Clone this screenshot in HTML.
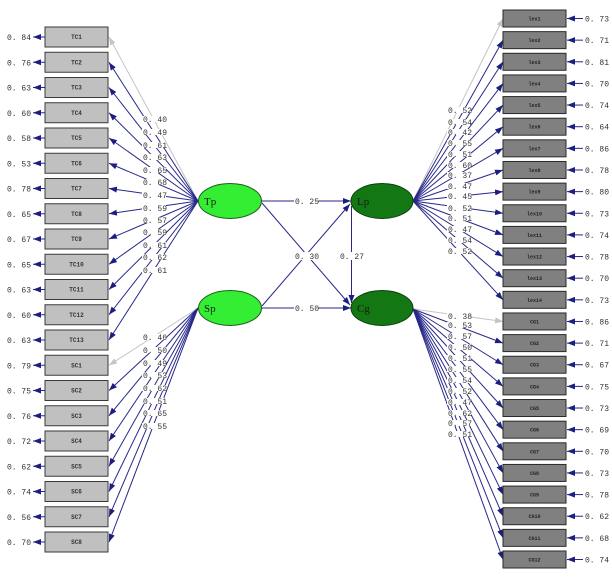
<!DOCTYPE html>
<html><head><meta charset="utf-8"><style>
html,body{margin:0;padding:0;background:#fff;}
svg{display:block;}
.v{font-family:"Liberation Mono",monospace;font-size:8px;fill:#333;}
.b{font-family:"Liberation Mono",monospace;font-size:6px;fill:#333;font-weight:bold;}
.r{font-family:"Liberation Mono",monospace;font-size:5px;fill:#222;font-weight:bold;}
.n{fill:none;stroke:#28288a;stroke-width:1;}
.g{fill:none;stroke:#c4c4c4;stroke-width:1;}
.lb{fill:#fff;}
.lt{font-family:"Liberation Serif",serif;font-size:11px;fill:#1a1a1a;}
</style></head><body>
<svg width="612" height="578" viewBox="0 0 612 578" xmlns="http://www.w3.org/2000/svg">
<defs>
<marker id="a" markerUnits="userSpaceOnUse" markerWidth="8" markerHeight="6" refX="8" refY="3" orient="auto"><path d="M0,0 L8,3 L0,6 z" fill="#1e1e80"/></marker>
<marker id="ag" markerUnits="userSpaceOnUse" markerWidth="8" markerHeight="6" refX="8" refY="3" orient="auto"><path d="M0,0 L8,3 L0,6 z" fill="#c4c4c4"/></marker>
</defs>

<g>
<line class="g" x1="198" y1="201" x2="109" y2="37" marker-end="url(#ag)"/>
<line class="n" x1="198" y1="201" x2="109" y2="62.25" marker-end="url(#a)"/>
<line class="n" x1="198" y1="201" x2="109" y2="87.5" marker-end="url(#a)"/>
<line class="n" x1="198" y1="201" x2="109" y2="112.75" marker-end="url(#a)"/>
<line class="n" x1="198" y1="201" x2="109" y2="138" marker-end="url(#a)"/>
<line class="n" x1="198" y1="201" x2="109" y2="163.25" marker-end="url(#a)"/>
<line class="n" x1="198" y1="201" x2="109" y2="188.5" marker-end="url(#a)"/>
<line class="n" x1="198" y1="201" x2="109" y2="213.75" marker-end="url(#a)"/>
<line class="n" x1="198" y1="201" x2="109" y2="239" marker-end="url(#a)"/>
<line class="n" x1="198" y1="201" x2="109" y2="264.25" marker-end="url(#a)"/>
<line class="n" x1="198" y1="201" x2="109" y2="289.5" marker-end="url(#a)"/>
<line class="n" x1="198" y1="201" x2="109" y2="314.75" marker-end="url(#a)"/>
<line class="n" x1="198" y1="201" x2="109" y2="340" marker-end="url(#a)"/>
</g>
<g>
<line class="g" x1="198" y1="308" x2="109" y2="365.25" marker-end="url(#ag)"/>
<line class="n" x1="198" y1="308" x2="109" y2="390.5" marker-end="url(#a)"/>
<line class="n" x1="198" y1="308" x2="109" y2="415.75" marker-end="url(#a)"/>
<line class="n" x1="198" y1="308" x2="109" y2="441" marker-end="url(#a)"/>
<line class="n" x1="198" y1="308" x2="109" y2="466.25" marker-end="url(#a)"/>
<line class="n" x1="198" y1="308" x2="109" y2="491.5" marker-end="url(#a)"/>
<line class="n" x1="198" y1="308" x2="109" y2="516.75" marker-end="url(#a)"/>
<line class="n" x1="198" y1="308" x2="109" y2="542" marker-end="url(#a)"/>
</g>
<g>
<line class="g" x1="413" y1="201" x2="503" y2="18.5" marker-end="url(#ag)"/>
<line class="n" x1="413" y1="201" x2="503" y2="40.14" marker-end="url(#a)"/>
<line class="n" x1="413" y1="201" x2="503" y2="61.78" marker-end="url(#a)"/>
<line class="n" x1="413" y1="201" x2="503" y2="83.42" marker-end="url(#a)"/>
<line class="n" x1="413" y1="201" x2="503" y2="105.06" marker-end="url(#a)"/>
<line class="n" x1="413" y1="201" x2="503" y2="126.7" marker-end="url(#a)"/>
<line class="n" x1="413" y1="201" x2="503" y2="148.34" marker-end="url(#a)"/>
<line class="n" x1="413" y1="201" x2="503" y2="169.98" marker-end="url(#a)"/>
<line class="n" x1="413" y1="201" x2="503" y2="191.62" marker-end="url(#a)"/>
<line class="n" x1="413" y1="201" x2="503" y2="213.26" marker-end="url(#a)"/>
<line class="n" x1="413" y1="201" x2="503" y2="234.9" marker-end="url(#a)"/>
<line class="n" x1="413" y1="201" x2="503" y2="256.54" marker-end="url(#a)"/>
<line class="n" x1="413" y1="201" x2="503" y2="278.18" marker-end="url(#a)"/>
<line class="n" x1="413" y1="201" x2="503" y2="299.82" marker-end="url(#a)"/>
</g>
<g>
<line class="g" x1="413" y1="309" x2="503" y2="321.46" marker-end="url(#ag)"/>
<line class="n" x1="413" y1="309" x2="503" y2="343.1" marker-end="url(#a)"/>
<line class="n" x1="413" y1="309" x2="503" y2="364.74" marker-end="url(#a)"/>
<line class="n" x1="413" y1="309" x2="503" y2="386.38" marker-end="url(#a)"/>
<line class="n" x1="413" y1="309" x2="503" y2="408.02" marker-end="url(#a)"/>
<line class="n" x1="413" y1="309" x2="503" y2="429.66" marker-end="url(#a)"/>
<line class="n" x1="413" y1="309" x2="503" y2="451.3" marker-end="url(#a)"/>
<line class="n" x1="413" y1="309" x2="503" y2="472.94" marker-end="url(#a)"/>
<line class="n" x1="413" y1="309" x2="503" y2="494.58" marker-end="url(#a)"/>
<line class="n" x1="413" y1="309" x2="503" y2="516.22" marker-end="url(#a)"/>
<line class="n" x1="413" y1="309" x2="503" y2="537.86" marker-end="url(#a)"/>
<line class="n" x1="413" y1="309" x2="503" y2="559.5" marker-end="url(#a)"/>
</g>

<line class="n" x1="262" y1="201" x2="351" y2="201" marker-end="url(#a)"/>
<line class="n" x1="262" y1="308" x2="351" y2="308" marker-end="url(#a)"/>
<line class="n" x1="262" y1="203" x2="350" y2="305" marker-end="url(#a)"/>
<line class="n" x1="262" y1="306" x2="350" y2="204" marker-end="url(#a)"/>
<line class="n" x1="351.5" y1="206" x2="351.5" y2="303" marker-end="url(#a)"/>

<g>
<rect class="lb" x="142" y="116" width="24" height="6"/><text class="v" x="143" y="122">0. 40</text>
<rect class="lb" x="142" y="129" width="24" height="6"/><text class="v" x="143" y="135">0. 49</text>
<rect class="lb" x="142" y="142" width="24" height="6"/><text class="v" x="143" y="148">0. 61</text>
<rect class="lb" x="142" y="154" width="24" height="6"/><text class="v" x="143" y="160">0. 63</text>
<rect class="lb" x="142" y="167" width="24" height="6"/><text class="v" x="143" y="173">0. 65</text>
<rect class="lb" x="142" y="179" width="24" height="6"/><text class="v" x="143" y="185">0. 68</text>
<rect class="lb" x="142" y="192" width="24" height="6"/><text class="v" x="143" y="198">0. 47</text>
<rect class="lb" x="142" y="205" width="24" height="6"/><text class="v" x="143" y="211">0. 59</text>
<rect class="lb" x="142" y="217" width="24" height="6"/><text class="v" x="143" y="223">0. 57</text>
<rect class="lb" x="142" y="229" width="24" height="6"/><text class="v" x="143" y="235">0. 59</text>
<rect class="lb" x="142" y="242" width="24" height="6"/><text class="v" x="143" y="248">0. 61</text>
<rect class="lb" x="142" y="254" width="24" height="6"/><text class="v" x="143" y="260">0. 62</text>
<rect class="lb" x="142" y="267" width="24" height="6"/><text class="v" x="143" y="273">0. 61</text>
<rect class="lb" x="142" y="334" width="24" height="6"/><text class="v" x="143" y="340">0. 46</text>
<rect class="lb" x="142" y="347" width="24" height="6"/><text class="v" x="143" y="353">0. 50</text>
<rect class="lb" x="142" y="360" width="24" height="6"/><text class="v" x="143" y="366">0. 49</text>
<rect class="lb" x="142" y="372" width="24" height="6"/><text class="v" x="143" y="378">0. 53</text>
<rect class="lb" x="142" y="385" width="24" height="6"/><text class="v" x="143" y="391">0. 62</text>
<rect class="lb" x="142" y="398" width="24" height="6"/><text class="v" x="143" y="404">0. 51</text>
<rect class="lb" x="142" y="410" width="24" height="6"/><text class="v" x="143" y="416">0. 65</text>
<rect class="lb" x="142" y="423" width="24" height="6"/><text class="v" x="143" y="429">0. 55</text>
</g>

<g>
<rect class="lb" x="447" y="107" width="24" height="6"/><text class="v" x="448" y="113">0. 52</text>
<rect class="lb" x="447" y="119" width="24" height="6"/><text class="v" x="448" y="125">0. 54</text>
<rect class="lb" x="447" y="129" width="24" height="6"/><text class="v" x="448" y="135">0. 42</text>
<rect class="lb" x="447" y="140" width="24" height="6"/><text class="v" x="448" y="146">0. 55</text>
<rect class="lb" x="447" y="151" width="24" height="6"/><text class="v" x="448" y="157">0. 51</text>
<rect class="lb" x="447" y="162" width="24" height="6"/><text class="v" x="448" y="168">0. 60</text>
<rect class="lb" x="447" y="172" width="24" height="6"/><text class="v" x="448" y="178">0. 37</text>
<rect class="lb" x="447" y="183" width="24" height="6"/><text class="v" x="448" y="189">0. 47</text>
<rect class="lb" x="447" y="193" width="24" height="6"/><text class="v" x="448" y="199">0. 45</text>
<rect class="lb" x="447" y="205" width="24" height="6"/><text class="v" x="448" y="211">0. 52</text>
<rect class="lb" x="447" y="215" width="24" height="6"/><text class="v" x="448" y="221">0. 51</text>
<rect class="lb" x="447" y="226" width="24" height="6"/><text class="v" x="448" y="232">0. 47</text>
<rect class="lb" x="447" y="237" width="24" height="6"/><text class="v" x="448" y="243">0. 54</text>
<rect class="lb" x="447" y="248" width="24" height="6"/><text class="v" x="448" y="254">0. 52</text>
<rect class="lb" x="447" y="313" width="24" height="6"/><text class="v" x="448" y="319">0. 38</text>
<rect class="lb" x="447" y="322" width="24" height="6"/><text class="v" x="448" y="328">0. 53</text>
<rect class="lb" x="447" y="333" width="24" height="6"/><text class="v" x="448" y="339">0. 57</text>
<rect class="lb" x="447" y="344" width="24" height="6"/><text class="v" x="448" y="350">0. 50</text>
<rect class="lb" x="447" y="355" width="24" height="6"/><text class="v" x="448" y="361">0. 51</text>
<rect class="lb" x="447" y="366" width="24" height="6"/><text class="v" x="448" y="372">0. 55</text>
<rect class="lb" x="447" y="377" width="24" height="6"/><text class="v" x="448" y="383">0. 54</text>
<rect class="lb" x="447" y="388" width="24" height="6"/><text class="v" x="448" y="394">0. 52</text>
<rect class="lb" x="447" y="399" width="24" height="6"/><text class="v" x="448" y="405">0. 47</text>
<rect class="lb" x="447" y="410" width="24" height="6"/><text class="v" x="448" y="416">0. 62</text>
<rect class="lb" x="447" y="420" width="24" height="6"/><text class="v" x="448" y="426">0. 57</text>
<rect class="lb" x="447" y="431" width="24" height="6"/><text class="v" x="448" y="437">0. 51</text>
</g>

<rect class="lb" x="294" y="197" width="24" height="8"/><text class="v" x="295" y="204">0. 25</text>
<rect class="lb" x="294" y="304" width="24" height="8"/><text class="v" x="295" y="311">0. 50</text>
<rect class="lb" x="294" y="252" width="24" height="8"/><text class="v" x="295" y="259">0. 30</text>
<rect class="lb" x="339" y="252" width="24" height="8"/><text class="v" x="340" y="259">0. 27</text>

<ellipse cx="230" cy="201" rx="31.5" ry="17.5" fill="#33ee33" stroke="#1f5f1f" stroke-width="1"/>
<text class="lt" x="204" y="205">Tp</text>
<ellipse cx="230" cy="308" rx="31.5" ry="17.5" fill="#33ee33" stroke="#1f5f1f" stroke-width="1"/>
<text class="lt" x="204" y="312">Sp</text>
<ellipse cx="382" cy="201" rx="31" ry="17.5" fill="#137713" stroke="#0c3f0c" stroke-width="1"/>
<text class="lt" x="357" y="205">Lp</text>
<ellipse cx="382" cy="308" rx="31" ry="17.5" fill="#137713" stroke="#0c3f0c" stroke-width="1"/>
<text class="lt" x="357" y="312">Cg</text>

<g stroke="#3a3a3a" fill="#c0c0c0">
<rect x="45" y="27" width="63" height="20"/>
<rect x="45" y="52.25" width="63" height="20"/>
<rect x="45" y="77.5" width="63" height="20"/>
<rect x="45" y="102.75" width="63" height="20"/>
<rect x="45" y="128" width="63" height="20"/>
<rect x="45" y="153.25" width="63" height="20"/>
<rect x="45" y="178.5" width="63" height="20"/>
<rect x="45" y="203.75" width="63" height="20"/>
<rect x="45" y="229" width="63" height="20"/>
<rect x="45" y="254.25" width="63" height="20"/>
<rect x="45" y="279.5" width="63" height="20"/>
<rect x="45" y="304.75" width="63" height="20"/>
<rect x="45" y="330" width="63" height="20"/>
<rect x="45" y="355.25" width="63" height="20"/>
<rect x="45" y="380.5" width="63" height="20"/>
<rect x="45" y="405.75" width="63" height="20"/>
<rect x="45" y="431" width="63" height="20"/>
<rect x="45" y="456.25" width="63" height="20"/>
<rect x="45" y="481.5" width="63" height="20"/>
<rect x="45" y="506.75" width="63" height="20"/>
<rect x="45" y="532" width="63" height="20"/>
</g>
<g text-anchor="middle">
<text class="b" x="76.5" y="39">TC1</text>
<text class="b" x="76.5" y="64.25">TC2</text>
<text class="b" x="76.5" y="89.5">TC3</text>
<text class="b" x="76.5" y="114.75">TC4</text>
<text class="b" x="76.5" y="140">TC5</text>
<text class="b" x="76.5" y="165.25">TC6</text>
<text class="b" x="76.5" y="190.5">TC7</text>
<text class="b" x="76.5" y="215.75">TC8</text>
<text class="b" x="76.5" y="241">TC9</text>
<text class="b" x="76.5" y="266.25">TC10</text>
<text class="b" x="76.5" y="291.5">TC11</text>
<text class="b" x="76.5" y="316.75">TC12</text>
<text class="b" x="76.5" y="342">TC13</text>
<text class="b" x="76.5" y="367.25">SC1</text>
<text class="b" x="76.5" y="392.5">SC2</text>
<text class="b" x="76.5" y="417.75">SC3</text>
<text class="b" x="76.5" y="443">SC4</text>
<text class="b" x="76.5" y="468.25">SC5</text>
<text class="b" x="76.5" y="493.5">SC6</text>
<text class="b" x="76.5" y="518.75">SC7</text>
<text class="b" x="76.5" y="544">SC8</text>
</g>
<g>
<line class="n" x1="45" y1="37" x2="33" y2="37" marker-end="url(#a)"/>
<line class="n" x1="45" y1="62.25" x2="33" y2="62.25" marker-end="url(#a)"/>
<line class="n" x1="45" y1="87.5" x2="33" y2="87.5" marker-end="url(#a)"/>
<line class="n" x1="45" y1="112.75" x2="33" y2="112.75" marker-end="url(#a)"/>
<line class="n" x1="45" y1="138" x2="33" y2="138" marker-end="url(#a)"/>
<line class="n" x1="45" y1="163.25" x2="33" y2="163.25" marker-end="url(#a)"/>
<line class="n" x1="45" y1="188.5" x2="33" y2="188.5" marker-end="url(#a)"/>
<line class="n" x1="45" y1="213.75" x2="33" y2="213.75" marker-end="url(#a)"/>
<line class="n" x1="45" y1="239" x2="33" y2="239" marker-end="url(#a)"/>
<line class="n" x1="45" y1="264.25" x2="33" y2="264.25" marker-end="url(#a)"/>
<line class="n" x1="45" y1="289.5" x2="33" y2="289.5" marker-end="url(#a)"/>
<line class="n" x1="45" y1="314.75" x2="33" y2="314.75" marker-end="url(#a)"/>
<line class="n" x1="45" y1="340" x2="33" y2="340" marker-end="url(#a)"/>
<line class="n" x1="45" y1="365.25" x2="33" y2="365.25" marker-end="url(#a)"/>
<line class="n" x1="45" y1="390.5" x2="33" y2="390.5" marker-end="url(#a)"/>
<line class="n" x1="45" y1="415.75" x2="33" y2="415.75" marker-end="url(#a)"/>
<line class="n" x1="45" y1="441" x2="33" y2="441" marker-end="url(#a)"/>
<line class="n" x1="45" y1="466.25" x2="33" y2="466.25" marker-end="url(#a)"/>
<line class="n" x1="45" y1="491.5" x2="33" y2="491.5" marker-end="url(#a)"/>
<line class="n" x1="45" y1="516.75" x2="33" y2="516.75" marker-end="url(#a)"/>
<line class="n" x1="45" y1="542" x2="33" y2="542" marker-end="url(#a)"/>
</g>
<g>
<text class="v" x="7" y="40">0. 84</text>
<text class="v" x="7" y="65.25">0. 76</text>
<text class="v" x="7" y="90.5">0. 63</text>
<text class="v" x="7" y="115.75">0. 60</text>
<text class="v" x="7" y="141">0. 58</text>
<text class="v" x="7" y="166.25">0. 53</text>
<text class="v" x="7" y="191.5">0. 78</text>
<text class="v" x="7" y="216.75">0. 65</text>
<text class="v" x="7" y="242">0. 67</text>
<text class="v" x="7" y="267.25">0. 65</text>
<text class="v" x="7" y="292.5">0. 63</text>
<text class="v" x="7" y="317.75">0. 60</text>
<text class="v" x="7" y="343">0. 63</text>
<text class="v" x="7" y="368.25">0. 79</text>
<text class="v" x="7" y="393.5">0. 75</text>
<text class="v" x="7" y="418.75">0. 76</text>
<text class="v" x="7" y="444">0. 72</text>
<text class="v" x="7" y="469.25">0. 62</text>
<text class="v" x="7" y="494.5">0. 74</text>
<text class="v" x="7" y="519.75">0. 56</text>
<text class="v" x="7" y="545">0. 70</text>
</g>

<g stroke="#2a2a2a" fill="#808080">
<rect x="503" y="10" width="63" height="17"/>
<rect x="503" y="31.64" width="63" height="17"/>
<rect x="503" y="53.28" width="63" height="17"/>
<rect x="503" y="74.92" width="63" height="17"/>
<rect x="503" y="96.56" width="63" height="17"/>
<rect x="503" y="118.2" width="63" height="17"/>
<rect x="503" y="139.84" width="63" height="17"/>
<rect x="503" y="161.48" width="63" height="17"/>
<rect x="503" y="183.12" width="63" height="17"/>
<rect x="503" y="204.76" width="63" height="17"/>
<rect x="503" y="226.4" width="63" height="17"/>
<rect x="503" y="248.04" width="63" height="17"/>
<rect x="503" y="269.68" width="63" height="17"/>
<rect x="503" y="291.32" width="63" height="17"/>
<rect x="503" y="312.96" width="63" height="17"/>
<rect x="503" y="334.6" width="63" height="17"/>
<rect x="503" y="356.24" width="63" height="17"/>
<rect x="503" y="377.88" width="63" height="17"/>
<rect x="503" y="399.52" width="63" height="17"/>
<rect x="503" y="421.16" width="63" height="17"/>
<rect x="503" y="442.8" width="63" height="17"/>
<rect x="503" y="464.44" width="63" height="17"/>
<rect x="503" y="486.08" width="63" height="17"/>
<rect x="503" y="507.72" width="63" height="17"/>
<rect x="503" y="529.36" width="63" height="17"/>
<rect x="503" y="551" width="63" height="17"/>
</g>
<g text-anchor="middle">
<text class="r" x="534.5" y="20.5">lex1</text>
<text class="r" x="534.5" y="42.14">lex2</text>
<text class="r" x="534.5" y="63.78">lex3</text>
<text class="r" x="534.5" y="85.42">lex4</text>
<text class="r" x="534.5" y="107.06">lex5</text>
<text class="r" x="534.5" y="128.7">lex6</text>
<text class="r" x="534.5" y="150.34">lex7</text>
<text class="r" x="534.5" y="171.98">lex8</text>
<text class="r" x="534.5" y="193.62">lex9</text>
<text class="r" x="534.5" y="215.26">lex10</text>
<text class="r" x="534.5" y="236.9">lex11</text>
<text class="r" x="534.5" y="258.54">lex12</text>
<text class="r" x="534.5" y="280.18">lex13</text>
<text class="r" x="534.5" y="301.82">lex14</text>
<text class="r" x="534.5" y="323.46">CG1</text>
<text class="r" x="534.5" y="345.1">CG2</text>
<text class="r" x="534.5" y="366.74">CG3</text>
<text class="r" x="534.5" y="388.38">CG4</text>
<text class="r" x="534.5" y="410.02">CG5</text>
<text class="r" x="534.5" y="431.66">CG6</text>
<text class="r" x="534.5" y="453.3">CG7</text>
<text class="r" x="534.5" y="474.94">CG8</text>
<text class="r" x="534.5" y="496.58">CG9</text>
<text class="r" x="534.5" y="518.22">CG10</text>
<text class="r" x="534.5" y="539.86">CG11</text>
<text class="r" x="534.5" y="561.5">CG12</text>
</g>
<g>
<line class="n" x1="583" y1="18.5" x2="567" y2="18.5" marker-end="url(#a)"/>
<line class="n" x1="583" y1="40.14" x2="567" y2="40.14" marker-end="url(#a)"/>
<line class="n" x1="583" y1="61.78" x2="567" y2="61.78" marker-end="url(#a)"/>
<line class="n" x1="583" y1="83.42" x2="567" y2="83.42" marker-end="url(#a)"/>
<line class="n" x1="583" y1="105.06" x2="567" y2="105.06" marker-end="url(#a)"/>
<line class="n" x1="583" y1="126.7" x2="567" y2="126.7" marker-end="url(#a)"/>
<line class="n" x1="583" y1="148.34" x2="567" y2="148.34" marker-end="url(#a)"/>
<line class="n" x1="583" y1="169.98" x2="567" y2="169.98" marker-end="url(#a)"/>
<line class="n" x1="583" y1="191.62" x2="567" y2="191.62" marker-end="url(#a)"/>
<line class="n" x1="583" y1="213.26" x2="567" y2="213.26" marker-end="url(#a)"/>
<line class="n" x1="583" y1="234.9" x2="567" y2="234.9" marker-end="url(#a)"/>
<line class="n" x1="583" y1="256.54" x2="567" y2="256.54" marker-end="url(#a)"/>
<line class="n" x1="583" y1="278.18" x2="567" y2="278.18" marker-end="url(#a)"/>
<line class="n" x1="583" y1="299.82" x2="567" y2="299.82" marker-end="url(#a)"/>
<line class="n" x1="583" y1="321.46" x2="567" y2="321.46" marker-end="url(#a)"/>
<line class="n" x1="583" y1="343.1" x2="567" y2="343.1" marker-end="url(#a)"/>
<line class="n" x1="583" y1="364.74" x2="567" y2="364.74" marker-end="url(#a)"/>
<line class="n" x1="583" y1="386.38" x2="567" y2="386.38" marker-end="url(#a)"/>
<line class="n" x1="583" y1="408.02" x2="567" y2="408.02" marker-end="url(#a)"/>
<line class="n" x1="583" y1="429.66" x2="567" y2="429.66" marker-end="url(#a)"/>
<line class="n" x1="583" y1="451.3" x2="567" y2="451.3" marker-end="url(#a)"/>
<line class="n" x1="583" y1="472.94" x2="567" y2="472.94" marker-end="url(#a)"/>
<line class="n" x1="583" y1="494.58" x2="567" y2="494.58" marker-end="url(#a)"/>
<line class="n" x1="583" y1="516.22" x2="567" y2="516.22" marker-end="url(#a)"/>
<line class="n" x1="583" y1="537.86" x2="567" y2="537.86" marker-end="url(#a)"/>
<line class="n" x1="583" y1="559.5" x2="567" y2="559.5" marker-end="url(#a)"/>
</g>
<g>
<text class="v" x="585" y="21.5">0. 73</text>
<text class="v" x="585" y="43.14">0. 71</text>
<text class="v" x="585" y="64.78">0. 81</text>
<text class="v" x="585" y="86.42">0. 70</text>
<text class="v" x="585" y="108.06">0. 74</text>
<text class="v" x="585" y="129.7">0. 64</text>
<text class="v" x="585" y="151.34">0. 86</text>
<text class="v" x="585" y="172.98">0. 78</text>
<text class="v" x="585" y="194.62">0. 80</text>
<text class="v" x="585" y="216.26">0. 73</text>
<text class="v" x="585" y="237.9">0. 74</text>
<text class="v" x="585" y="259.54">0. 78</text>
<text class="v" x="585" y="281.18">0. 70</text>
<text class="v" x="585" y="302.82">0. 73</text>
<text class="v" x="585" y="324.46">0. 86</text>
<text class="v" x="585" y="346.1">0. 71</text>
<text class="v" x="585" y="367.74">0. 67</text>
<text class="v" x="585" y="389.38">0. 75</text>
<text class="v" x="585" y="411.02">0. 73</text>
<text class="v" x="585" y="432.66">0. 69</text>
<text class="v" x="585" y="454.3">0. 70</text>
<text class="v" x="585" y="475.94">0. 73</text>
<text class="v" x="585" y="497.58">0. 78</text>
<text class="v" x="585" y="519.22">0. 62</text>
<text class="v" x="585" y="540.86">0. 68</text>
<text class="v" x="585" y="562.5">0. 74</text>
</g>
</svg>
</body></html>
